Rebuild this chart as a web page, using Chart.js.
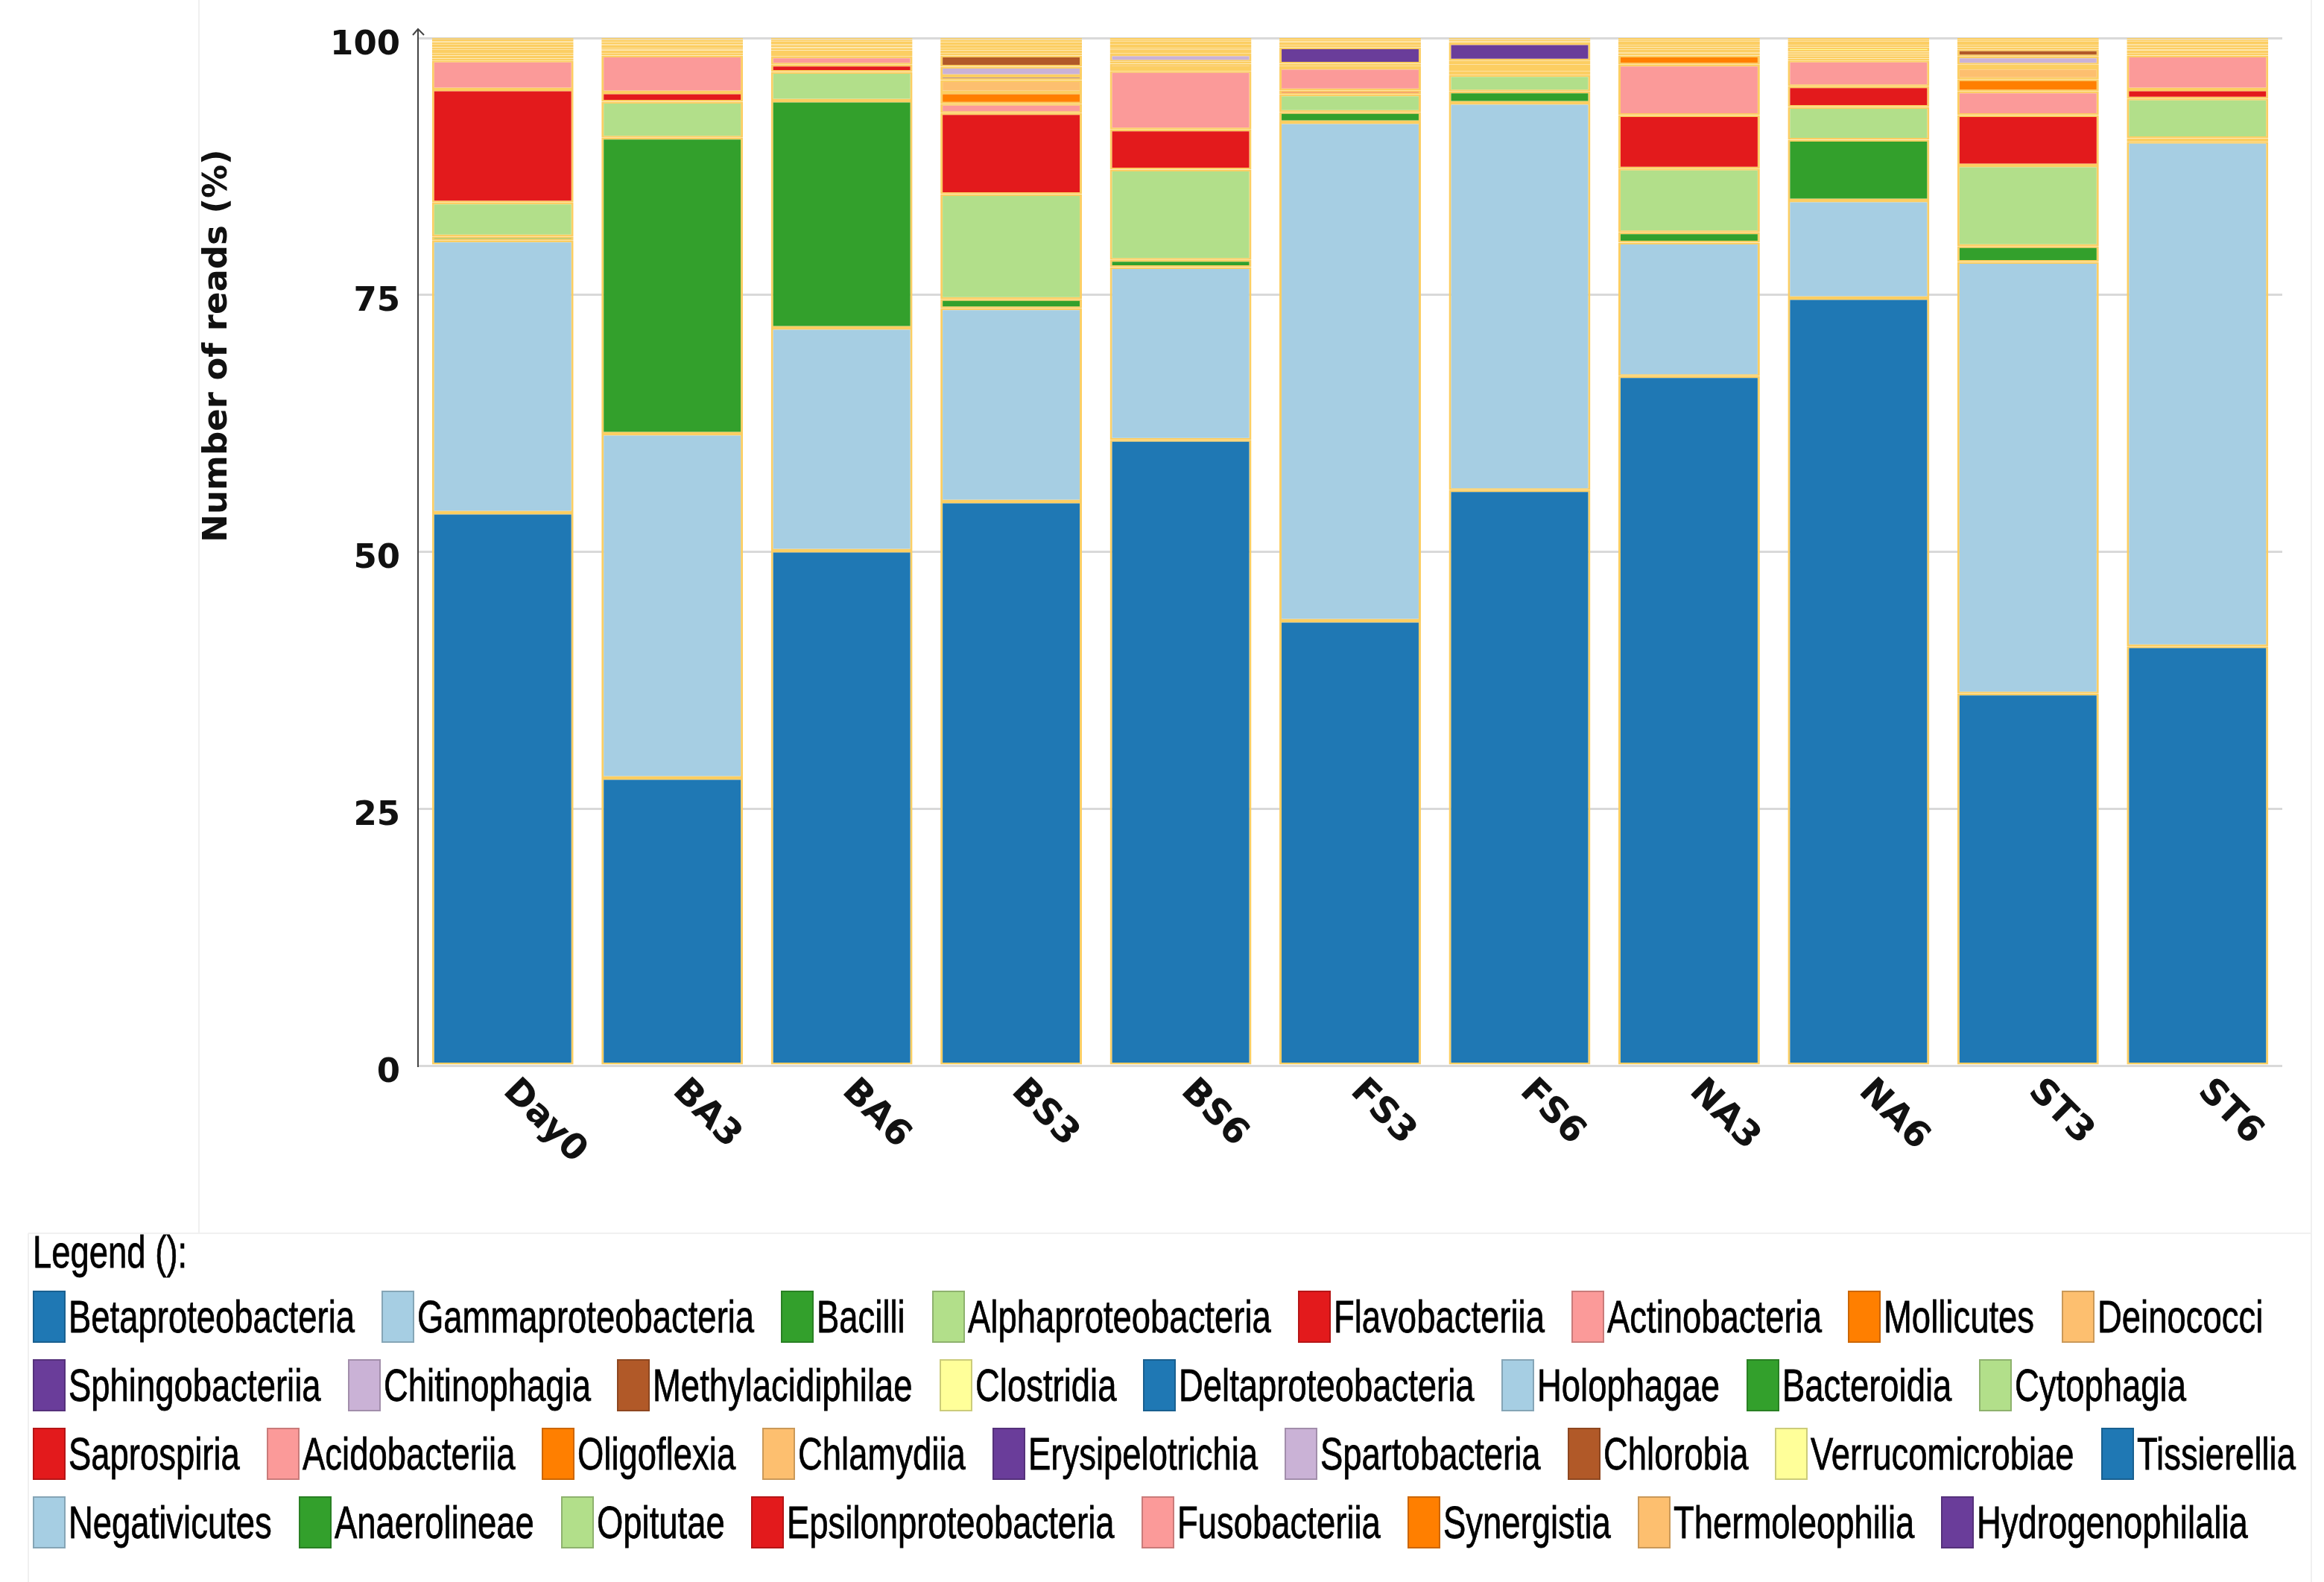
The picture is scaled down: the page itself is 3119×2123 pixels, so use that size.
<!DOCTYPE html>
<html>
<head>
<meta charset="utf-8">
<script src="https://cdn.jsdelivr.net/npm/chart.js@4.4.1/dist/chart.umd.min.js"></script>
<style>
  html, body { margin: 0; padding: 0; background: #fff; }
  #wrap { position: relative; width: 3119px; height: 2123px; }
  #legend {
    position: absolute; left: 44px; top: 1640px;
    font-family: "Liberation Sans", Arial, sans-serif;
    font-size: 61px; color: #000;
  }
  #legend .title { height: 81px; line-height: 81px; }
  #legend .row { display: flex; align-items: center; height: 92px; white-space: nowrap; }
  #legend .item { display: inline-flex; align-items: center; margin-right: 36px; }
  #legend .box { width: 44px; height: 70px; box-sizing: border-box; border: 2px solid; margin-right: 4px; flex: none; }
  #legend .txt { display: inline-block; white-space: nowrap; transform-origin: left center; -webkit-text-stroke: 0.8px #000; }
</style>
</head>
<body>
<div id="wrap">
  <canvas id="chart"></canvas>
  <div id="legend"><div class="title"><span class="txt">Legend ():</span></div></div>
</div>
<script>
const samples = ["Day0", "BA3", "BA6", "BS3", "BS6", "FS3", "FS6", "NA3", "NA6", "ST3", "ST6"];
const yTicks = [0, 25, 50, 75, 100];

const taxa = [
  "Betaproteobacteria", "Gammaproteobacteria", "Bacilli", "Alphaproteobacteria",
  "Flavobacteriia", "Actinobacteria", "Mollicutes", "Deinococci",
  "Sphingobacteriia", "Chitinophagia", "Methylacidiphilae", "Clostridia",
  "Deltaproteobacteria", "Holophagae", "Bacteroidia", "Cytophagia",
  "Saprospiria", "Acidobacteriia", "Oligoflexia", "Chlamydiia", "Erysipelotrichia",
  "Spartobacteria", "Chlorobia", "Verrucomicrobiae", "Tissierellia",
  "Negativicutes", "Anaerolineae", "Opitutae", "Epsilonproteobacteria",
  "Fusobacteriia", "Synergistia", "Thermoleophilia", "Hydrogenophilalia"
];

// % of reads per sample (same order as samples)
const betaproteobacteria  = [53.8, 28.0, 50.1, 54.9, 60.9, 43.3, 56.0, 67.1, 74.7, 36.2, 40.8];
const gammaproteobacteria = [26.5, 33.5, 21.7, 18.8, 16.8, 48.5, 37.7, 13.0, 9.5, 42.0, 49.1];
const bacilli             = [0.4, 28.8, 22.1, 0.9, 0.7, 1.0, 1.1, 1.0, 5.9, 1.55, 0.35];
const alphaproteobacteria = [3.3, 3.5, 2.8, 10.2, 8.8, 1.7, 1.6, 6.2, 3.2, 7.85, 3.85];
const flavobacteriia      = [11.0, 0.9, 0.7, 7.9, 3.9, 0.4, 0.35, 5.2, 2.0, 4.9, 0.9];
const actinobacteria      = [2.8, 3.6, 0.8, 0.9, 5.7, 2.2, 0.35, 4.9, 2.5, 2.3, 3.3];
const mollicutes          = [0.2, 0.2, 0.2, 1.1, 0.3, 0.2, 0.35, 0.9, 0.2, 1.2, 0.2];
const deinococci          = [0.3, 0.2, 0.3, 1.2, 0.4, 0.2, 0.35, 0.2, 0.2, 1.1, 0.2];
const sphingobacteriia    = [0.1, 0.1, 0.1, 0.4, 0.2, 1.6, 1.7, 0.1, 0.15, 0.3, 0.1];
const chitinophagia       = [0.1, 0.1, 0.2, 0.9, 0.7, 0.1, 0.1, 0.1, 0.15, 0.8, 0.1];
const methylacidiphilae   = [0.2, 0.1, 0.1, 1.1, 0.1, 0.1, 0.1, 0.2, 0.15, 0.7, 0.2];
const clostridia          = [0.2, 0.2, 0.2, 0.2, 0.2, 0.2, 0.1, 0.2, 0.45, 0.2, 0.2];
const deltaproteobacteria = [0.2, 0.1, 0.1, 0.2, 0.2, 0.1, 0.1, 0.1, 0.1, 0.1, 0.1];
const holophagae          = [0.1, 0.1, 0.1, 0.1, 0.1, 0.1, 0.1, 0.1, 0.1, 0.1, 0.1];
const bacteroidia         = [0.2, 0.2, 0.2, 0.2, 0.2, 0.1, 0, 0.2, 0.2, 0.2, 0.2];
const cytophagia          = [0.2, 0.2, 0.1, 0.2, 0.2, 0.2, 0, 0.2, 0.2, 0.2, 0.1];
const saprospiria         = [0.1, 0, 0.1, 0.1, 0.1, 0, 0, 0.1, 0.1, 0.1, 0.1];
const acidobacteriia      = [0.2, 0.1, 0.1, 0.2, 0.2, 0, 0, 0.2, 0.2, 0.2, 0.1];
const oligoflexia         = [0.1, 0.1, 0, 0.1, 0.1, 0, 0, 0, 0, 0, 0];
const chlamydiia          = [0, 0, 0, 0.2, 0.2, 0, 0, 0, 0, 0, 0];
const erysipelotrichia    = [0, 0, 0, 0.1, 0, 0, 0, 0, 0, 0, 0];
const spartobacteria      = [0, 0, 0, 0.1, 0, 0, 0, 0, 0, 0, 0];
const chlorobia           = [0, 0, 0, 0, 0, 0, 0, 0, 0, 0, 0];
const verrucomicrobiae    = [0, 0, 0, 0, 0, 0, 0, 0, 0, 0, 0];
const tissierellia        = [0, 0, 0, 0, 0, 0, 0, 0, 0, 0, 0];
const negativicutes       = [0, 0, 0, 0, 0, 0, 0, 0, 0, 0, 0];
const anaerolineae        = [0, 0, 0, 0, 0, 0, 0, 0, 0, 0, 0];
const opitutae            = [0, 0, 0, 0, 0, 0, 0, 0, 0, 0, 0];
const epsilonproteobacteria = [0, 0, 0, 0, 0, 0, 0, 0, 0, 0, 0];
const fusobacteriia       = [0, 0, 0, 0, 0, 0, 0, 0, 0, 0, 0];
const synergistia         = [0, 0, 0, 0, 0, 0, 0, 0, 0, 0, 0];
const thermoleophilia     = [0, 0, 0, 0, 0, 0, 0, 0, 0, 0, 0];
const hydrogenophilalia   = [0, 0, 0, 0, 0, 0, 0, 0, 0, 0, 0];

const seriesValues = [
  betaproteobacteria, gammaproteobacteria, bacilli, alphaproteobacteria,
  flavobacteriia, actinobacteria, mollicutes, deinococci,
  sphingobacteriia, chitinophagia, methylacidiphilae, clostridia,
  deltaproteobacteria, holophagae, bacteroidia, cytophagia,
  saprospiria, acidobacteriia, oligoflexia, chlamydiia, erysipelotrichia,
  spartobacteria, chlorobia, verrucomicrobiae, tissierellia,
  negativicutes, anaerolineae, opitutae, epsilonproteobacteria,
  fusobacteriia, synergistia, thermoleophilia, hydrogenophilalia
];

const taxonColors = [
  "#1f78b4", "#a6cee3", "#33a02c", "#b2df8a", "#e31a1c", "#fb9a99", "#ff7f00", "#fdbf6f",
  "#6a3d9a", "#cab2d6", "#b15928", "#ffff99", "#1f78b4", "#a6cee3", "#33a02c", "#b2df8a",
  "#e31a1c", "#fb9a99", "#ff7f00", "#fdbf6f", "#6a3d9a", "#cab2d6", "#b15928", "#ffff99",
  "#1f78b4", "#a6cee3", "#33a02c", "#b2df8a", "#e31a1c", "#fb9a99", "#ff7f00", "#fdbf6f",
  "#6a3d9a"
];
const legendRows = [8, 8, 9, 8];
const barEdge = "#fcce62";
const narrow = 0.745; // squeeze legend text like a narrow face

function darken(hex) {
  const n = parseInt(hex.slice(1), 16);
  const f = 0.8;
  const r = Math.round(((n >> 16) & 255) * f);
  const g = Math.round(((n >> 8) & 255) * f);
  const b = Math.round((n & 255) * f);
  return "rgb(" + r + "," + g + "," + b + ")";
}

// legend
const legendEl = document.getElementById("legend");
let k = 0;
legendRows.forEach((count) => {
  const row = document.createElement("div");
  row.className = "row";
  for (let j = 0; j < count; j++, k++) {
    const item = document.createElement("span");
    item.className = "item";
    const box = document.createElement("span");
    box.className = "box";
    box.style.background = taxonColors[k];
    box.style.borderColor = darken(taxonColors[k]);
    const label = document.createElement("span");
    label.className = "txt";
    label.textContent = taxa[k];
    item.append(box, label);
    row.append(item);
  }
  legendEl.append(row);
});
document.querySelectorAll("#legend .txt").forEach((el) => {
  const w = el.getBoundingClientRect().width;
  el.style.width = (w * narrow) + "px";
  el.style.transform = "scaleX(" + narrow + ")";
});

// extra drawing: rotated sample names, axis title, arrow, faint panel lines
const decorations = {
  id: "decorations",
  beforeDraw(chart) {
    const ctx = chart.ctx;
    ctx.save();
    ctx.strokeStyle = "#f0f0f0";
    ctx.lineWidth = 2;
    ctx.beginPath();
    ctx.moveTo(267, 0); ctx.lineTo(267, 1655);
    ctx.moveTo(38, 1655); ctx.lineTo(3102, 1655);
    ctx.moveTo(3102, 0); ctx.lineTo(3102, 2123);
    ctx.moveTo(38, 1655); ctx.lineTo(38, 2123);
    ctx.stroke();
    ctx.restore();
  },
  afterDraw(chart) {
    const ctx = chart.ctx;
    const x = chart.scales.x;
    const y = chart.scales.y;
    ctx.save();
    ctx.fillStyle = "#111";
    ctx.font = "bold 48px 'DejaVu Sans'";
    ctx.textAlign = "left";
    ctx.textBaseline = "alphabetic";
    samples.forEach((s, i) => {
      ctx.save();
      ctx.translate(x.getPixelForValue(i) - 1, y.bottom + 36);
      ctx.rotate(Math.PI / 4);
      ctx.fillText(s, 0, 0);
      ctx.restore();
    });

    ctx.save();
    ctx.translate(292, 464);
    ctx.rotate(-Math.PI / 2);
    ctx.textAlign = "center";
    ctx.textBaseline = "middle";
    ctx.font = "bold 45px 'DejaVu Sans'";
    ctx.fillText("Number of reads (%)", 0, 0);
    ctx.restore();

    const ax = x.left;
    ctx.strokeStyle = "#444";
    ctx.lineWidth = 2;
    ctx.beginPath();
    ctx.moveTo(ax, y.top);
    ctx.lineTo(ax, y.top - 12);
    ctx.moveTo(ax - 7, y.top - 4);
    ctx.lineTo(ax, y.top - 12);
    ctx.lineTo(ax + 8, y.top - 4);
    ctx.stroke();
    ctx.restore();
  }
};

const datasets = taxa.map((name, i) => ({
  label: name,
  data: seriesValues[i],
  backgroundColor: taxonColors[i],
  borderColor: barEdge,
  borderWidth: { top: 2.5, bottom: 2.5, left: 3, right: 3 },
  borderSkipped: false,
  barPercentage: 0.835,
  categoryPercentage: 1.0
}));

new Chart(document.getElementById("chart"), {
  type: "bar",
  data: { labels: samples, datasets: datasets },
  options: {
    responsive: true,
    maintainAspectRatio: false,
    animation: false,
    layout: { padding: { top: 42, right: 56, bottom: 0, left: 0 } },
    plugins: { legend: { display: false }, tooltip: { enabled: false } },
    scales: {
      x: {
        stacked: true,
        grid: { display: false },
        border: { display: false },
        ticks: { display: false },
        afterFit: (s) => { s.height = 693; }
      },
      y: {
        stacked: true,
        min: 0,
        max: 100,
        afterBuildTicks: (s) => { s.ticks = yTicks.map((v) => ({ value: v })); },
        ticks: {
          font: { family: "DejaVu Sans", weight: "bold", size: 45 },
          color: "#111",
          padding: 24,
          labelOffset: 10
        },
        grid: { color: "#d9d9d9", lineWidth: 3, drawTicks: false },
        border: { display: true, color: "#444", width: 2 },
        afterFit: (s) => { s.width = 561; }
      }
    }
  },
  plugins: [decorations]
});
</script>
</body>
</html>
